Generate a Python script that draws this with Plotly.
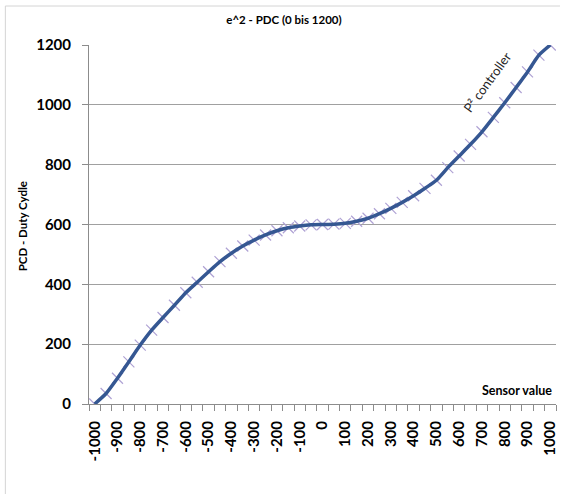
import plotly.graph_objects as go

# Data
sensor_values = list(range(-1000, 1001, 50))
duty_cycle = [0, 35, 86, 141, 197, 247, 289, 330, 372, 407,
              442, 476, 504, 528, 548, 565, 579, 589, 595, 599,
              600, 601, 604, 611, 621, 636, 654, 674, 696, 721,
              748, 790, 829, 868, 910, 958, 1007, 1058, 1110, 1166,
              1200]
x_tick_labels = list(range(-1000, 1001, 100))
y_tick_labels = list(range(0, 1201, 200))

W, H = 562, 494
L, R, T, B = 89, 4, 45, 90
pw = W - L - R
ph = H - T - B

def px(xp):
    return (xp - L) / pw

def py(yp):
    return (H - B - yp) / ph

font_family = "Lato, 'Open Sans', 'DejaVu Sans', sans-serif"

fig = go.Figure()
# markers below line
fig.add_trace(go.Scatter(
    x=sensor_values, y=duty_cycle, mode="markers",
    marker=dict(symbol="x-thin", size=11, line=dict(width=1.2, color="#AFA2D4")),
    showlegend=False, hoverinfo="skip"))
fig.add_trace(go.Scatter(
    x=sensor_values, y=duty_cycle, mode="lines",
    line=dict(color="#355792", width=3.5, shape="spline", smoothing=0.6),
    showlegend=False))

fig.update_layout(
    width=W, height=H,
    margin=dict(l=L, r=R, t=T, b=B),
    paper_bgcolor="white", plot_bgcolor="white",
    font=dict(family=font_family, color="black"),
    title=dict(text="<b>e^2 - PDC (0 bis 1200)</b>", x=284 / W, xanchor="center",
               y=1 - 20 / H, yanchor="middle", font=dict(size=11.5, family=font_family)),
    xaxis=dict(
        range=[-1025, 1025], tickmode="array", tickvals=x_tick_labels,
        ticktext=[f"<b>{v}</b>" for v in x_tick_labels],
        tickangle=-90, ticks="", showgrid=False, zeroline=False,
        showline=True, linecolor="#8C8C8C", linewidth=1,
        tickfont=dict(size=15, family=font_family), ticklabelstandoff=10,
        minor=dict(tick0=-1025, dtick=50, ticks="outside", ticklen=6,
                   tickcolor="#8C8C8C", showgrid=False),
        fixedrange=True),
    yaxis=dict(
        range=[0, 1200], tickmode="array", tickvals=y_tick_labels,
        ticktext=[f"<b>{v}</b>" for v in y_tick_labels],
        ticks="outside", ticklen=6, tickcolor="#8C8C8C",
        showgrid=True, gridcolor="#A0A0A0", gridwidth=1, zeroline=False,
        showline=True, linecolor="#8C8C8C", linewidth=1,
        tickfont=dict(size=15, family=font_family), ticklabelstandoff=8,
        fixedrange=True),
    annotations=[
        dict(text="<b>PCD - Duty Cydle</b>", xref="paper", yref="paper",
             x=px(23), y=py(226), textangle=-90, showarrow=False,
             xanchor="center", yanchor="middle", font=dict(size=11.5)),
        dict(text="<b>Sensor value</b>", xref="paper", yref="paper",
             x=px(556), y=py(390), showarrow=False,
             xanchor="right", yanchor="middle", font=dict(size=12.5)),
        dict(text="P² controller", xref="paper", yref="paper",
             x=px(489), y=py(82), textangle=-54, showarrow=False,
             xanchor="center", yanchor="middle",
             font=dict(size=13, color="#262626")),
    ],
    shapes=[
        dict(type="line", xref="paper", yref="paper",
             x0=px(5), x1=px(5), y0=py(6), y1=py(H), line=dict(color="#D4D4D4", width=1)),
        dict(type="line", xref="paper", yref="paper",
             x0=px(5), x1=px(W), y0=py(6), y1=py(6), line=dict(color="#D4D4D4", width=1)),
    ],
)

fig.write_html("out.html", config={"displayModeBar": False},
               post_script="document.body.style.margin='0';document.body.style.padding='0';")
